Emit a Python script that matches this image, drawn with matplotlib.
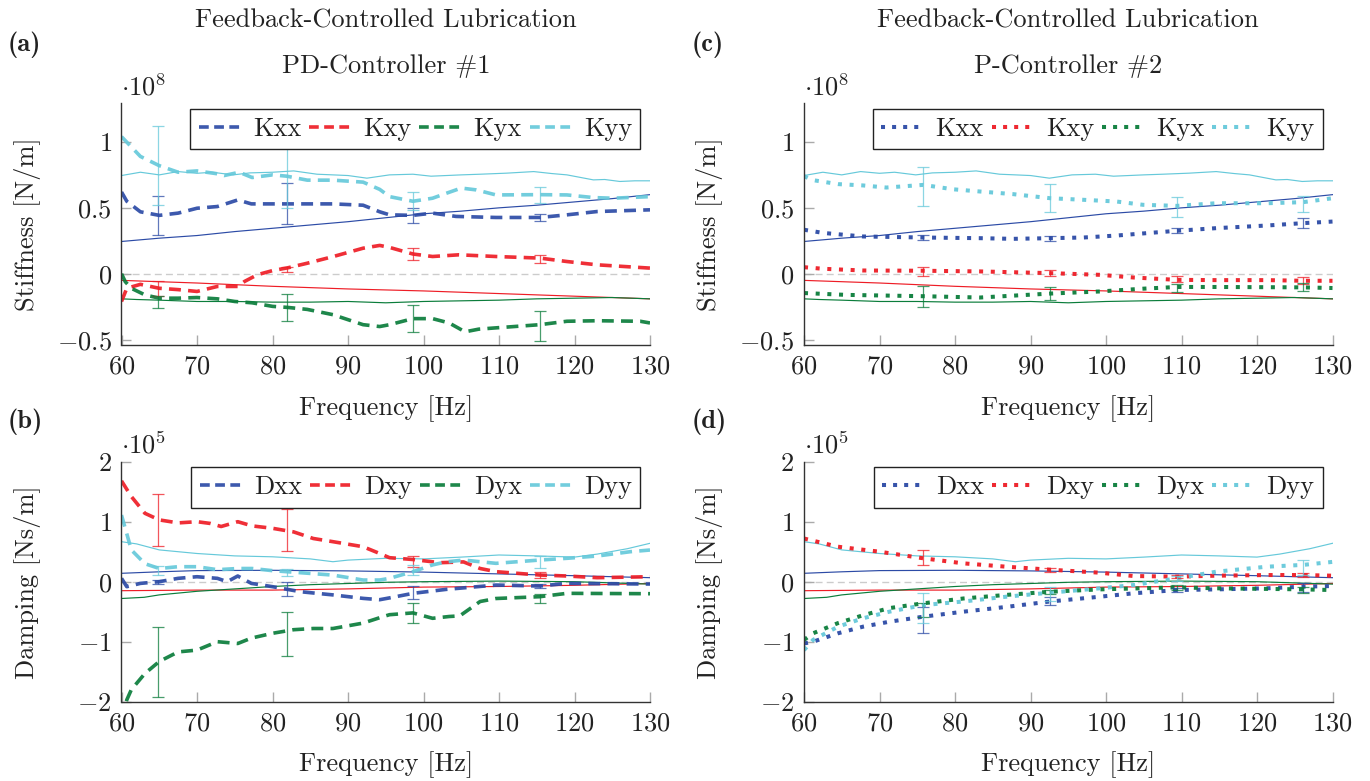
import matplotlib
matplotlib.use("Agg")
import matplotlib.pyplot as plt
from matplotlib.lines import Line2D

plt.rcParams['font.family'] = ['cmr10', 'DejaVu Serif']
plt.rcParams['mathtext.fontset'] = 'cm'
plt.rcParams['axes.formatter.use_mathtext'] = True
plt.rcParams['axes.unicode_minus'] = True

FS = 19

# ---------------- colours ----------------
C_XX = '#2C4BA6'
C_XY = '#EE1D26'
C_YX = '#0B7D3B'
C_YY = '#66C9DA'

# ---------------- model (solid thin) curves ----------------
f_kxx_m = [60, 65, 70, 75, 80, 85, 90, 95, 100, 105, 110, 115, 120, 125, 130]
kxx_m = [0.245, 0.27, 0.29, 0.32, 0.345, 0.37, 0.395, 0.425, 0.455, 0.475, 0.5, 0.52, 0.545, 0.57, 0.6]
f_kxy_m = [60, 70, 80, 90, 100, 110, 120, 130]
kxy_m = [-0.05, -0.07, -0.095, -0.115, -0.13, -0.15, -0.17, -0.19]
f_kyx_m = [60, 62, 65, 70, 75, 80, 85, 90, 95, 100, 105, 110, 115, 120, 125, 130]
kyx_m = [-0.19, -0.195, -0.2, -0.21, -0.21, -0.215, -0.215, -0.21, -0.22, -0.21, -0.205, -0.2, -0.19, -0.185, -0.18, -0.19]
f_kyy_m = [60, 62.5, 65, 67.5, 70, 72, 74.8, 77, 80, 82.8, 85.9, 88, 90, 92.5, 95.5, 98.6, 101, 103, 105, 107.5, 111, 114.6, 117, 119, 122.5, 124, 126, 128, 130]
kyy_m = [0.745, 0.77, 0.75, 0.775, 0.762, 0.77, 0.75, 0.765, 0.77, 0.78, 0.755, 0.75, 0.745, 0.725, 0.75, 0.755, 0.74, 0.745, 0.75, 0.755, 0.763, 0.775, 0.76, 0.75, 0.712, 0.715, 0.7, 0.705, 0.705]

f_dxx_m = [60, 65, 70, 80, 90, 100, 110, 120, 130]
dxx_m = [0.14, 0.165, 0.185, 0.19, 0.18, 0.16, 0.13, 0.1, 0.067]
f_dxy_m = [60, 70, 80, 90, 100, 110, 120, 130]
dxy_m = [-0.15, -0.14, -0.14, -0.12, -0.09, -0.08, -0.06, -0.03]
f_dyx_m = [60, 63, 65, 70, 75, 80, 85, 90, 95, 100, 110, 120, 130]
dyx_m = [-0.28, -0.26, -0.22, -0.16, -0.12, -0.08, -0.05, -0.03, -0.01, 0.0, 0.01, 0.0, -0.04]
f_dyy_m = [60, 62, 65, 70, 75, 80, 85, 88, 90, 95, 100, 105, 110, 115, 120, 123, 127, 130]
dyy_m = [0.667, 0.63, 0.53, 0.47, 0.43, 0.415, 0.38, 0.333, 0.36, 0.39, 0.38, 0.41, 0.445, 0.43, 0.41, 0.46, 0.55, 0.64]

# ---------------- PD-Controller #1 : stiffness (x1e8) ----------------
f_kxx_a = [60, 60.7, 62.5, 65, 67.5, 70, 72.7, 75.4, 77.2, 80, 83.7, 88, 92, 94.2, 95.5, 98.6, 101.2, 104.3, 109.6, 115.4, 119, 123, 130]
kxx_a = [0.62, 0.55, 0.47, 0.443, 0.46, 0.497, 0.51, 0.56, 0.53, 0.53, 0.53, 0.53, 0.52, 0.47, 0.447, 0.443, 0.46, 0.435, 0.427, 0.427, 0.447, 0.472, 0.485]
f_kxy_a = [60, 60.7, 62.5, 65, 67.5, 70, 72.7, 75.4, 76.3, 78, 80, 82, 84.6, 88, 92, 94.2, 95.5, 98.6, 101.2, 104.7, 109.6, 115.4, 119, 123, 130]
kxy_a = [-0.21, -0.11, -0.08, -0.11, -0.12, -0.134, -0.096, -0.096, -0.058, -0.007, 0.024, 0.045, 0.08, 0.13, 0.194, 0.215, 0.2, 0.15, 0.131, 0.144, 0.131, 0.119, 0.093, 0.068, 0.043]
f_kyx_a = [60, 60.5, 61.3, 63.1, 65, 67.5, 70, 72.7, 75, 77.3, 80, 82, 84.6, 88, 92, 94.2, 95.5, 98.6, 101.2, 103.4, 105.5, 107.3, 109.6, 115.4, 119, 123, 128.7, 130]
kyx_a = [0.0, -0.06, -0.11, -0.16, -0.185, -0.185, -0.18, -0.19, -0.21, -0.22, -0.247, -0.255, -0.27, -0.31, -0.386, -0.4, -0.386, -0.34, -0.34, -0.373, -0.44, -0.42, -0.41, -0.386, -0.36, -0.356, -0.36, -0.373]
f_kyy_a = [60, 62.5, 65, 67.5, 70, 72.5, 73.6, 75.6, 77.3, 80, 81.9, 84.6, 88, 92, 94.2, 95.5, 98.6, 101.2, 103, 105, 107, 109.6, 115.4, 119, 122.5, 125, 130]
kyy_a = [1.04, 0.89, 0.82, 0.77, 0.78, 0.76, 0.745, 0.77, 0.73, 0.75, 0.74, 0.71, 0.71, 0.695, 0.64, 0.585, 0.55, 0.573, 0.61, 0.65, 0.636, 0.598, 0.6, 0.598, 0.578, 0.573, 0.585]

ef_a = [64.9, 81.9, 98.6, 115.4]
kxx_a_c = [0.443, 0.53, 0.443, 0.427]
kxx_a_e = [0.147, 0.155, 0.058, 0.03]
kxy_a_c = [-0.11, 0.03, 0.15, 0.115]
kxy_a_e = [0.055, 0.02, 0.047, 0.03]
kyx_a_c = [-0.215, -0.255, -0.34, -0.395]
kyx_a_e = [0.045, 0.105, 0.105, 0.115]
kyy_a_c = [0.82, 0.75, 0.55, 0.6]
kyy_a_e = [0.30, 0.25, 0.07, 0.06]

# ---------------- PD-Controller #1 : damping (x1e5) ----------------
f_dxx_b = [60, 60.7, 62.5, 65, 67.5, 70, 72.7, 74, 75.4, 77.2, 80, 83.7, 88, 92, 94.2, 95.5, 98.6, 103, 109.6, 115.4, 119, 130]
dxx_b = [0.056, -0.083, -0.028, 0.0, 0.056, 0.083, 0.056, 0.0, 0.095, -0.028, -0.083, -0.167, -0.22, -0.278, -0.3, -0.27, -0.194, -0.128, -0.056, -0.072, -0.028, -0.039]
f_dxy_b = [60, 61.3, 63.1, 65, 67.5, 70, 71.8, 73.2, 75.4, 77.3, 80, 82.8, 85.4, 88, 92, 94.2, 95.5, 98.6, 102.2, 105.3, 107.5, 109.6, 115.4, 119, 123, 130]
dxy_b = [1.68, 1.42, 1.14, 1.03, 0.98, 1.0, 0.97, 0.92, 1.0, 0.93, 0.89, 0.83, 0.72, 0.667, 0.583, 0.47, 0.4, 0.37, 0.317, 0.33, 0.22, 0.167, 0.111, 0.095, 0.067, 0.083]
f_dyx_b = [60, 60.7, 61.3, 63.1, 65, 67.5, 70, 72.7, 75.4, 77.2, 80, 82.8, 85.4, 88, 92, 94.2, 95.5, 98.6, 101.2, 103.4, 104.8, 107.5, 109.6, 115.4, 119, 130]
dyx_b = [-2.3, -1.97, -1.8, -1.53, -1.33, -1.17, -1.14, -1.0, -1.03, -0.94, -0.86, -0.8, -0.78, -0.78, -0.69, -0.6, -0.55, -0.52, -0.61, -0.58, -0.57, -0.33, -0.28, -0.25, -0.194, -0.2]
f_dyy_b = [60, 60.7, 61.3, 63.1, 65, 67.5, 70, 72.7, 75.4, 77.3, 80, 83.7, 88, 92, 94.2, 95.5, 98.6, 101.2, 103, 105.3, 109.6, 115.4, 119, 123, 127.4, 130]
dyy_b = [1.11, 0.8, 0.53, 0.3, 0.22, 0.25, 0.25, 0.2, 0.22, 0.22, 0.184, 0.15, 0.11, 0.028, 0.028, 0.056, 0.167, 0.28, 0.33, 0.361, 0.306, 0.361, 0.39, 0.428, 0.5, 0.528]

ef_b = [64.9, 81.9, 98.6, 115.4]
dxx_b_c = [0.0, -0.12, -0.18, -0.07]
dxx_b_e = [0.03, 0.12, 0.11, 0.04]
dxy_b_c = [1.03, 0.87, 0.34, 0.11]
dxy_b_e = [0.43, 0.35, 0.09, 0.055]
dyx_b_c = [-1.34, -0.87, -0.52, -0.28]
dyx_b_e = [0.58, 0.37, 0.16, 0.083]
dyy_b_c = [0.19, 0.15, 0.19, 0.33]
dyy_b_e = [0.08, 0.06, 0.085, 0.095]

# ---------------- P-Controller #2 : stiffness (x1e8) ----------------
f_kxx_c = [60, 62.5, 67.8, 75.8, 83.3, 87.7, 92.6, 97, 101.4, 105.8, 109.4, 114.6, 121.3, 126.1, 130]
kxx_c = [0.334, 0.31, 0.283, 0.275, 0.27, 0.265, 0.27, 0.275, 0.29, 0.31, 0.326, 0.346, 0.366, 0.384, 0.396]
f_kxy_c = [60, 62.5, 67.8, 75.8, 83.3, 92.6, 99.2, 103.6, 109.4, 114.6, 121.3, 126.1, 130]
kxy_c = [0.05, 0.038, 0.025, 0.023, 0.018, 0.005, -0.008, -0.028, -0.046, -0.048, -0.048, -0.053, -0.053]
f_kyx_c = [60, 65.6, 75.8, 83.3, 92.6, 99.2, 104.9, 109.4, 114.6, 126.1, 130]
kyx_c = [-0.146, -0.16, -0.17, -0.18, -0.15, -0.134, -0.113, -0.1, -0.1, -0.103, -0.108]
f_kyy_c = [60, 61.2, 64.5, 67.8, 70.9, 75.8, 79.7, 83.3, 87.7, 92.6, 97, 101.4, 104.9, 109.4, 114.6, 121.3, 126.1, 130]
kyy_c = [0.74, 0.71, 0.68, 0.67, 0.654, 0.674, 0.641, 0.624, 0.604, 0.573, 0.561, 0.548, 0.523, 0.515, 0.535, 0.535, 0.543, 0.573]

ef_c = [75.8, 92.6, 109.4, 126.1]
kxx_c_c = [0.275, 0.27, 0.326, 0.385]
kxx_c_e = [0.02, 0.02, 0.02, 0.035]
kxy_c_c = [0.015, 0.005, -0.04, -0.05]
kxy_c_e = [0.035, 0.02, 0.024, 0.027]
kyx_c_c = [-0.172, -0.15, -0.105, -0.1]
kyx_c_e = [0.083, 0.05, 0.03, 0.028]
kyy_c_c = [0.665, 0.575, 0.507, 0.532]
kyy_c_e = [0.148, 0.105, 0.073, 0.06]

# ---------------- P-Controller #2 : damping (x1e5) ----------------
f_dxx_d = [60, 61.2, 64.5, 67.8, 71.3, 75.8, 81.1, 86.8, 92.6, 99.2, 103.6, 109.4, 114.6, 121.3, 126.1, 130]
dxx_d = [-1.03, -1.0, -0.86, -0.75, -0.667, -0.583, -0.5, -0.42, -0.33, -0.25, -0.194, -0.139, -0.128, -0.11, -0.083, -0.072]
f_dxy_d = [60, 64.5, 70, 75.8, 81.1, 86.8, 92.6, 99.2, 103.6, 109.4, 114.6, 121.3, 126.1, 130]
dxy_d = [0.72, 0.583, 0.5, 0.39, 0.306, 0.25, 0.2, 0.15, 0.095, 0.084, 0.1, 0.111, 0.111, 0.1]
f_dyx_d = [60, 61.2, 64.5, 67.8, 71.3, 75.8, 81.1, 86.8, 92.6, 99.2, 109.4, 114.6, 121.3, 126.1, 130]
dyx_d = [-0.97, -0.86, -0.69, -0.56, -0.44, -0.36, -0.28, -0.22, -0.167, -0.128, -0.094, -0.11, -0.12, -0.128, -0.139]
f_dyy_d = [60, 61.2, 64.5, 67.8, 71.3, 75.8, 81.1, 86.8, 92.6, 99.2, 103.6, 109.4, 114.6, 121.3, 126.1, 130]
dyy_d = [-1.14, -0.97, -0.75, -0.61, -0.5, -0.39, -0.33, -0.25, -0.183, -0.11, -0.056, 0.056, 0.167, 0.25, 0.28, 0.33]

ef_d = [75.8, 92.6, 109.4, 126.1]
dxx_d_c = [-0.64, -0.32, -0.139, -0.097]
dxx_d_e = [0.22, 0.07, 0.035, 0.07]
dxy_d_c = [0.403, 0.2, 0.084, 0.11]
dxy_d_e = [0.125, 0.03, 0.03, 0.03]
dyx_d_c = [-0.47, -0.167, -0.094, -0.13]
dyx_d_e = [0.11, 0.03, 0.04, 0.05]
dyy_d_c = [-0.44, -0.205, 0.05, 0.236]
dyy_d_e = [0.255, 0.11, 0.04, 0.125]

title_top = 'Feedback-Controlled Lubrication'
titles = ['PD-Controller #1', 'P-Controller #2']
panel_tags = ['(a)', '(b)', '(c)', '(d)']
k_names = ['Kxx', 'Kxy', 'Kyx', 'Kyy']
d_names = ['Dxx', 'Dxy', 'Dyx', 'Dyy']
colors = [C_XX, C_XY, C_YX, C_YY]

W, H = 1370, 781
fig = plt.figure(figsize=(W / 100, H / 100), dpi=100)
TXT = '#222222'


def ax_at(l, r, t, b):
    return fig.add_axes([l / W, 1 - b / H, (r - l) / W, (b - t) / H])


DASHED = dict(lw=2.6, dashes=(3.3, 2.0), dash_capstyle='butt', alpha=0.92)
DASHED_LEG = dict(lw=2.6, dashes=(2.7, 1.5), dash_capstyle='butt', alpha=0.92)
DOTTED = dict(lw=2.9, dashes=(1.0, 1.9), dash_capstyle='butt', alpha=0.95)
DOTTED_LEG = dict(lw=2.9, dashes=(1.0, 1.75), dash_capstyle='butt', alpha=0.95)


def style_axes(ax, ylim, yticks, yticklabels, ylabel, expo):
    ax.set_xlim(60, 130)
    ax.set_ylim(*ylim)
    ax.set_xticks([60, 70, 80, 90, 100, 110, 120, 130])
    ax.set_yticks(yticks)
    ax.set_yticklabels(yticklabels)
    for s in ['top', 'right']:
        ax.spines[s].set_visible(False)
    for s in ['left', 'bottom']:
        ax.spines[s].set_color('#333333')
        ax.spines[s].set_linewidth(1.0)
    ax.tick_params(direction='in', length=7.5, width=1.0, color='#aaaaaa',
                   labelsize=FS, labelcolor=TXT, pad=7)
    ax.set_xlabel('Frequency [Hz]', fontsize=FS, color=TXT)
    ax.xaxis.set_label_coords(0.5, -0.262)
    ax.xaxis.label.set_va('center')
    ax.set_ylabel(ylabel, fontsize=FS, color=TXT)
    ax.yaxis.set_label_coords(-0.178, 0.5)
    ax.yaxis.label.set_va('center')
    ax.text(0.0, 1.012, r'$\cdot 10^{%d}$' % expo, transform=ax.transAxes,
            ha='left', va='bottom', fontsize=FS, color=TXT)
    ax.axhline(0, color='#cccccc', lw=1.0, dashes=(5, 3), zorder=0.5)


def draw(ax, model, meas, errs, names, style, leg_style, ef):
    for (fm, vm), c in zip(model, colors):
        ax.plot(fm, vm, color=c, lw=0.85, zorder=1)
    handles = []
    for (fx, vx), (cc, ee), c, nm in zip(meas, errs, colors, names):
        ax.plot(fx, vx, color=c, zorder=2, **style)
        handles.append(Line2D([], [], color=c, label=nm, **leg_style))
        ax.errorbar(ef, cc, yerr=ee, fmt='none', ecolor=c, elinewidth=0.9,
                    capsize=4, capthick=0.9, alpha=0.75, zorder=3)
    leg = ax.legend(handles=handles, loc='upper right', bbox_to_anchor=(0.982, 0.977),
                    ncol=4, fontsize=FS, frameon=True, fancybox=False, framealpha=1,
                    edgecolor=TXT, borderaxespad=0, handlelength=1.55,
                    handletextpad=0.5, columnspacing=0.3, borderpad=0.32)
    for t in leg.get_texts():
        t.set_color(TXT)
    leg.get_frame().set_linewidth(1.0)
    leg.set_zorder(5)


k_model = [(f_kxx_m, kxx_m), (f_kxy_m, kxy_m), (f_kyx_m, kyx_m), (f_kyy_m, kyy_m)]
d_model = [(f_dxx_m, dxx_m), (f_dxy_m, dxy_m), (f_dyx_m, dyx_m), (f_dyy_m, dyy_m)]

k_yt = [-0.5, 0, 0.5, 1]
k_ytl = [r'$-0.5$', r'$0$', r'$0.5$', r'$1$']
d_yt = [-2, -1, 0, 1, 2]
d_ytl = [r'$-2$', r'$-1$', r'$0$', r'$1$', r'$2$']

ax_a = ax_at(121.5, 650, 103, 345)
style_axes(ax_a, (-0.54, 1.295), k_yt, k_ytl, 'Stiffness [N/m]', 8)
draw(ax_a, k_model,
     [(f_kxx_a, kxx_a), (f_kxy_a, kxy_a), (f_kyx_a, kyx_a), (f_kyy_a, kyy_a)],
     [(kxx_a_c, kxx_a_e), (kxy_a_c, kxy_a_e), (kyx_a_c, kyx_a_e), (kyy_a_c, kyy_a_e)],
     k_names, DASHED, DASHED_LEG, ef_a)

ax_b = ax_at(121.5, 650, 461.7, 701.7)
style_axes(ax_b, (-2, 2), d_yt, d_ytl, 'Damping [Ns/m]', 5)
draw(ax_b, d_model,
     [(f_dxx_b, dxx_b), (f_dxy_b, dxy_b), (f_dyx_b, dyx_b), (f_dyy_b, dyy_b)],
     [(dxx_b_c, dxx_b_e), (dxy_b_c, dxy_b_e), (dyx_b_c, dyx_b_e), (dyy_b_c, dyy_b_e)],
     d_names, DASHED, DASHED_LEG, ef_b)

ax_c = ax_at(804, 1332.5, 103, 345)
style_axes(ax_c, (-0.54, 1.295), k_yt, k_ytl, 'Stiffness [N/m]', 8)
draw(ax_c, k_model,
     [(f_kxx_c, kxx_c), (f_kxy_c, kxy_c), (f_kyx_c, kyx_c), (f_kyy_c, kyy_c)],
     [(kxx_c_c, kxx_c_e), (kxy_c_c, kxy_c_e), (kyx_c_c, kyx_c_e), (kyy_c_c, kyy_c_e)],
     k_names, DOTTED, DOTTED_LEG, ef_c)

ax_d = ax_at(804, 1332.5, 461.7, 701.7)
style_axes(ax_d, (-2, 2), d_yt, d_ytl, 'Damping [Ns/m]', 5)
draw(ax_d, d_model,
     [(f_dxx_d, dxx_d), (f_dxy_d, dxy_d), (f_dyx_d, dyx_d), (f_dyy_d, dyy_d)],
     [(dxx_d_c, dxx_d_e), (dxy_d_c, dxy_d_e), (dyx_d_c, dyx_d_e), (dyy_d_c, dyy_d_e)],
     d_names, DOTTED, DOTTED_LEG, ef_d)

# titles and panel tags
for cx, sub in [((121.5 + 650) / 2, titles[0]), ((804 + 1332.5) / 2, titles[1])]:
    fig.text(cx / W, 1 - 21 / H, title_top, ha='center', va='center', fontsize=FS, color=TXT)
    fig.text(cx / W, 1 - 66 / H, sub, ha='center', va='center', fontsize=FS, color=TXT)

for (px, py), tag in zip([(8, 45), (8, 422), (692, 45), (692, 422)], panel_tags):
    fig.text(px / W, 1 - py / H, tag, ha='left', va='center',
             fontsize=FS, color=TXT, family=['cmb10', 'DejaVu Serif'])

fig.savefig('out.png', dpi=100)
